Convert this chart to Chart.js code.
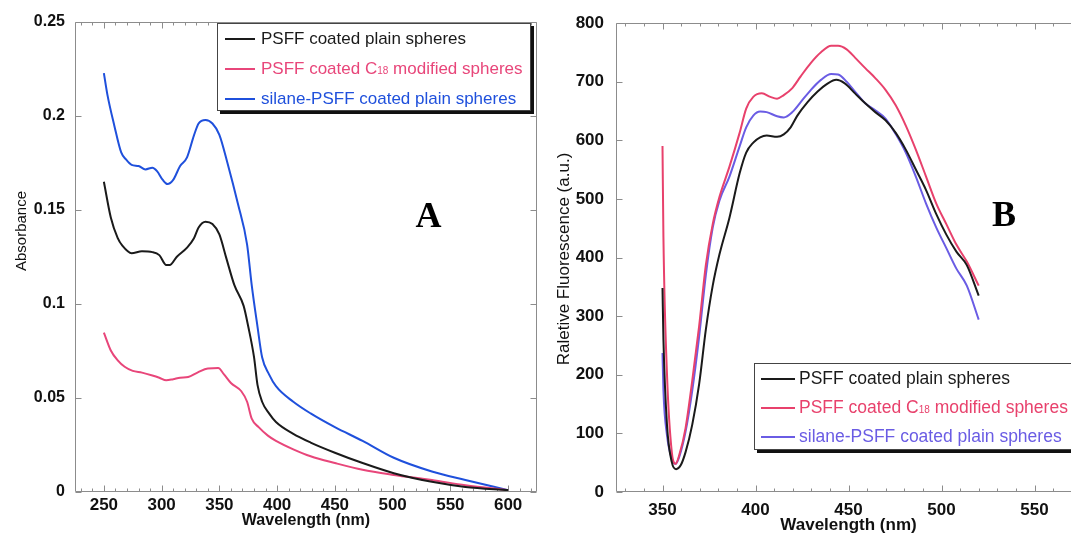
<!DOCTYPE html>
<html>
<head>
<meta charset="utf-8">
<script src="https://cdn.jsdelivr.net/npm/chart.js@4.4.1/dist/chart.umd.min.js"></script>
<style>
  html, body { margin: 0; padding: 0; background: #fff; overflow: hidden; }
  body { width: 1071px; height: 533px; position: relative; }
  canvas { position: absolute; top: 0; }
  #chartA { left: 0; }
  #chartB { left: 540px; }
  .legend {
    position: absolute; background: #fff; border: 1px solid #444;
    box-shadow: 3px 3px 0 #111; box-sizing: border-box;
    font-family: 'Liberation Sans', Arial, sans-serif;
  }
  .legend .row { display: flex; align-items: center; white-space: nowrap; }
  .legend .swatch { display: inline-block; height: 2px; }
  .legend .sub { font-size: 10px; }
  #legendA { left: 217px; top: 23px; width: 314px; height: 88px; font-size: 17px; }
  #legendA .row { height: 30px; }
  #legendA .swatch { width: 30px; margin: 0 6px 0 7px; }
  #legendB { left: 754px; top: 363px; width: 340px; height: 87px; font-size: 17.5px; }
  #legendB .row { height: 29px; }
  #legendB .swatch { width: 34px; margin: 0 4px 0 6px; }
</style>
</head>
<body>
<canvas id="chartA" width="540" height="533"></canvas>
<canvas id="chartB" width="560" height="545"></canvas>
<div id="legendA" class="legend"></div>
<div id="legendB" class="legend"></div>
<script>
Chart.defaults.font.family = "'Liberation Sans', Arial, Helvetica, sans-serif";
Chart.defaults.color = '#111';

// series names (shared by both panels)
const seriesNames = ['PSFF coated plain spheres', 'PSFF coated C18 modified spheres', 'silane-PSFF coated plain spheres'];

// ---- panel A: absorbance ----
const colorsA = ['#1a1a1a', '#e8467a', '#1f50dc'];
const xTicksA = [250, 300, 350, 400, 450, 500, 550, 600];
const yTicksA = [0, 0.05, 0.1, 0.15, 0.2, 0.25];

const wlA_plain = [250, 256, 262, 266, 274, 283, 292, 298, 304, 307, 313, 322, 328, 332, 338, 344, 350, 356, 363, 371, 375, 380, 383, 387, 393, 399, 414, 429, 450, 474, 501, 534, 563, 600];
const absA_plain = [0.165, 0.146, 0.135, 0.131, 0.127, 0.128, 0.1276, 0.126, 0.1207, 0.1207, 0.125, 0.130, 0.135, 0.1407, 0.1438, 0.1425, 0.137, 0.1244, 0.110, 0.099, 0.088, 0.0717, 0.057, 0.048, 0.0418, 0.0372, 0.0309, 0.0263, 0.0209, 0.0154, 0.010, 0.0054, 0.0027, 0.001];

const wlA_c18 = [250, 256, 262, 268, 275, 283, 292, 298, 304, 310, 316, 323, 331, 340, 349, 354, 360, 369, 374, 378, 384, 392, 399, 414, 429, 450, 474, 501, 534, 563, 600];
const absA_c18 = [0.0848, 0.0753, 0.070, 0.0666, 0.0644, 0.0635, 0.062, 0.0608, 0.0594, 0.060, 0.0608, 0.0612, 0.0635, 0.0657, 0.0659, 0.0626, 0.058, 0.0536, 0.048, 0.039, 0.0345, 0.030, 0.0272, 0.0227, 0.019, 0.0154, 0.0118, 0.0091, 0.0064, 0.0036, 0.001];

const wlA_silane = [250, 253, 259, 265, 269, 274, 280, 286, 292, 296, 301, 305, 310, 316, 322, 328, 332, 338, 344, 350, 357, 366, 374, 378, 383, 387, 393, 399, 414, 429, 450, 474, 501, 534, 563, 600];
const absA_silane = [0.2228, 0.2115, 0.195, 0.1806, 0.177, 0.174, 0.1734, 0.1716, 0.1725, 0.1707, 0.166, 0.1638, 0.166, 0.1734, 0.178, 0.1897, 0.196, 0.1979, 0.196, 0.190, 0.175, 0.1534, 0.1316, 0.110, 0.088, 0.0717, 0.0626, 0.0563, 0.048, 0.0418, 0.0345, 0.0272, 0.0182, 0.0109, 0.0064, 0.001];

// ---- panel B: fluorescence ----
const colorsB = ['#1a1a1a', '#e8416c', '#6a5ce4'];
const xTicksB = [350, 400, 450, 500, 550];
const yTicksB = [0, 100, 200, 300, 400, 500, 600, 700, 800];

const wlB_plain = [350, 350.5, 352.4, 355, 357.3, 359.7, 362.4, 366, 369.7, 373.3, 377, 380.6, 386, 391.5, 395, 398.8, 402.5, 406, 411.6, 415.2, 418.9, 422.5, 428, 433.4, 438.9, 443.4, 448, 453.5, 459, 464.4, 469.9, 475.3, 480.8, 486.2, 491.7, 497.2, 502.6, 508, 513.6, 520];
const flB_plain = [348, 260, 115, 51, 39, 45, 68, 115, 184, 277, 352, 405, 468, 544, 579, 596, 605, 608, 606, 610, 622, 642, 665, 683, 697, 703, 697, 680, 663, 648, 634, 613, 584, 550, 515, 474, 439, 410, 387, 335];

const wlB_c18 = [350, 350.5, 352.4, 355, 357, 359, 362.4, 366, 369.7, 373.3, 377, 380.6, 386, 391.5, 395, 398.8, 403.4, 408, 411.6, 415.2, 419.8, 424.3, 429.8, 435.2, 440.7, 444.4, 449, 453.5, 459, 464.4, 469.9, 475.3, 480.8, 486.2, 491.7, 497.2, 502.6, 508, 513.6, 520];
const flB_c18 = [590, 434, 202, 68, 48, 63, 109, 190, 283, 387, 457, 503, 555, 613, 654, 674, 680, 674, 671, 677, 689, 709, 732, 750, 761, 761, 755, 741, 723, 706, 686, 660, 625, 584, 538, 492, 457, 422, 393, 352];

const wlB_silane = [350, 350.5, 352.4, 355, 357, 359, 362.4, 366, 369.7, 373.3, 377, 380.6, 386, 391.5, 395, 398.8, 402.5, 406, 411.6, 415.2, 419.8, 424.3, 429.8, 435.2, 440.7, 444.4, 449, 453.5, 459, 464.4, 469.9, 475.3, 480.8, 486.2, 491.7, 497.2, 502.6, 508, 513.6, 520];
const flB_silane = [237, 173, 97, 57, 48, 60, 103, 173, 265, 370, 451, 497, 538, 590, 622, 642, 649, 648, 641, 639, 648, 665, 686, 703, 713, 712, 700, 683, 663, 651, 637, 611, 579, 538, 492, 451, 416, 381, 352, 294];

function toPoints(xs, ys) {
  return xs.map((x, i) => ({ x, y: ys[i] }));
}

// MATLAB-like box with inward ticks on all four sides
const framePlugin = {
  id: 'frame',
  beforeDatasetsDraw(chart, args, o) {
    const { ctx, chartArea: a, scales: { x, y } } = chart;
    const L = Math.round(a.left) + 0.5, R = Math.round(a.right) - 0.5;
    const T = Math.round(a.top) + 0.5, B = Math.round(a.bottom) - 0.5;
    ctx.save();
    ctx.strokeStyle = '#8c8c8c';
    ctx.lineWidth = 1;
    ctx.beginPath();
    ctx.rect(L, T, R - L, B - T);
    for (let v = Math.ceil(x.min / o.xMinor) * o.xMinor; v <= x.max; v += o.xMinor) {
      const px = Math.round(x.getPixelForValue(v)) + 0.5;
      const len = v % o.xMajor === 0 ? 6 : 3;
      ctx.moveTo(px, B); ctx.lineTo(px, B - len);
      ctx.moveTo(px, T); ctx.lineTo(px, T + len);
    }
    for (const v of o.yTicks) {
      const py = Math.round(y.getPixelForValue(v)) + 0.5;
      ctx.moveTo(L, py); ctx.lineTo(L + 6, py);
      ctx.moveTo(R, py); ctx.lineTo(R - 6, py);
    }
    ctx.stroke();
    ctx.restore();
  }
};

// panel letter and y axis title
const panelTextPlugin = {
  id: 'panelText',
  afterDraw(chart, args, o) {
    const { ctx, scales: { x, y } } = chart;
    ctx.save();
    ctx.fillStyle = '#000';
    ctx.font = 'bold 36px "Liberation Serif", "Times New Roman", serif';
    ctx.textAlign = 'center';
    ctx.textBaseline = 'alphabetic';
    ctx.fillText(o.letter, x.getPixelForValue(o.letterAt[0]), y.getPixelForValue(o.letterAt[1]));
    ctx.translate(o.yTitlePos[0], o.yTitlePos[1]);
    ctx.rotate(-Math.PI / 2);
    ctx.font = o.yTitleFont;
    ctx.fillStyle = '#111';
    ctx.textBaseline = 'middle';
    ctx.fillText(o.yTitle, 0, 0);
    ctx.restore();
  }
};

function buildChart(id, p) {
  return new Chart(document.getElementById(id), {
    type: 'line',
    data: {
      datasets: p.series.map((s, i) => ({
        label: seriesNames[i],
        data: toPoints(s[0], s[1]),
        borderColor: p.colors[i],
        borderWidth: 2,
        pointRadius: 0,
        fill: false,
        cubicInterpolationMode: 'monotone'
      }))
    },
    options: {
      responsive: false,
      animation: false,
      devicePixelRatio: 1,
      layout: { padding: p.padding },
      plugins: {
        legend: { display: false },
        tooltip: { enabled: false },
        frame: { xMinor: 10, xMajor: 50, yTicks: p.yTicks },
        panelText: p.text
      },
      scales: {
        x: {
          type: 'linear',
          min: p.xRange[0],
          max: p.xRange[1],
          grid: { display: false, drawTicks: false },
          border: { display: false },
          afterBuildTicks: s => { s.ticks = p.xTicks.map(v => ({ value: v })); },
          afterFit: s => { s.height = p.xHeight; },
          ticks: { font: { size: 17, weight: 'bold' }, padding: p.xPad, maxRotation: 0, callback: v => String(v) },
          title: { display: true, text: 'Wavelength (nm)', font: { size: p.xTitleSize, weight: 'bold' }, padding: { top: 0, bottom: p.xTitlePad } }
        },
        y: {
          min: p.yRange[0],
          max: p.yRange[1],
          grid: { display: false, drawTicks: false },
          border: { display: false },
          afterBuildTicks: s => { s.ticks = p.yTicks.map(v => ({ value: v })); },
          afterFit: s => { s.width = p.yWidth; },
          ticks: { font: { size: p.yFont, weight: 'bold' }, padding: p.yPad, callback: v => String(v) }
        }
      }
    },
    plugins: [framePlugin, panelTextPlugin]
  });
}

buildChart('chartA', {
  series: [[wlA_plain, absA_plain], [wlA_c18, absA_c18], [wlA_silane, absA_silane]],
  colors: colorsA,
  xRange: [225, 625], yRange: [0, 0.25],
  xTicks: xTicksA, yTicks: yTicksA,
  padding: { top: 22, right: 3, left: 0, bottom: 0 },
  xHeight: 41, yWidth: 75,
  xPad: 3, yPad: 10, yFont: 16,
  xTitleSize: 16, xTitlePad: 3,
  text: { letter: 'A', letterAt: [531, 0.141], yTitle: 'Absorbance', yTitleFont: '15px "Liberation Sans", Arial, sans-serif', yTitlePos: [22, 231] }
});

buildChart('chartB', {
  series: [[wlB_plain, flB_plain], [wlB_c18, flB_c18], [wlB_silane, flB_silane]],
  colors: colorsB,
  xRange: [325, 575], yRange: [0, 800],
  xTicks: xTicksB, yTicks: yTicksB,
  padding: { top: 23, right: 19, left: 0, bottom: 0 },
  xHeight: 53, yWidth: 76,
  xPad: 8, yPad: 12, yFont: 17,
  xTitleSize: 17, xTitlePad: 9,
  text: { letter: 'B', letterAt: [533.6, 454], yTitle: 'Raletive Fluorescence (a.u.)', yTitleFont: '17px "Liberation Sans", Arial, sans-serif', yTitlePos: [24, 259] }
});

// HTML legends with the C18 subscript
function buildLegend(id, colors) {
  const box = document.getElementById(id);
  seriesNames.forEach((name, i) => {
    const row = document.createElement('div');
    row.className = 'row';
    row.style.color = colors[i];
    const sw = document.createElement('span');
    sw.className = 'swatch';
    sw.style.background = colors[i];
    row.appendChild(sw);
    const txt = document.createElement('span');
    txt.innerHTML = name.replace('C18', 'C<span class="sub">18</span>');
    row.appendChild(txt);
    box.appendChild(row);
  });
}
buildLegend('legendA', colorsA);
buildLegend('legendB', colorsB);
</script>
</body>
</html>
